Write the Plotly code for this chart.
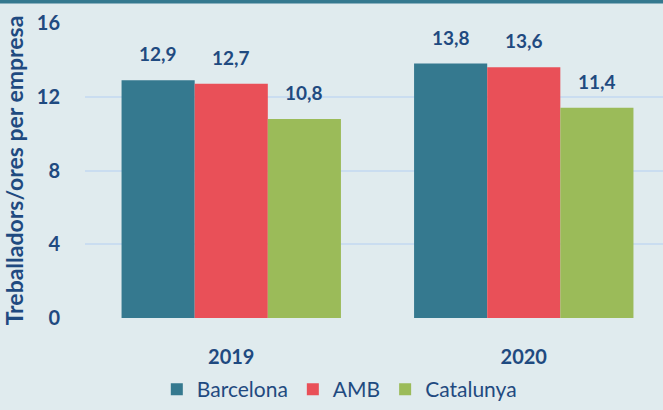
import plotly.graph_objects as go

years = ["2019", "2020"]
barcelona = [12.9, 13.8]
amb = [12.7, 13.6]
catalunya = [10.8, 11.4]
series_names = ["Barcelona", "AMB", "Catalunya"]
colors = ["#35798F", "#E95058", "#9BBB59"]
y_ticks = [0, 4, 8, 12, 16]

navy = "#1F4A80"
font_fam = "Lato, 'Open Sans', sans-serif"

fig = go.Figure()
annotations = []
bar_w = 0.75 / 3
for i, (name, vals, col) in enumerate(zip(series_names, [barcelona, amb, catalunya], colors)):
    fig.add_trace(go.Bar(
        x=years, y=vals, name=name, marker=dict(color=col, line=dict(width=0)),
    ))
    for j, v in enumerate(vals):
        annotations.append(dict(
            x=j + (i - 1) * bar_w, y=v, xref="x", yref="y",
            text=f"{v:.1f}".replace(".", ","), showarrow=False,
            yanchor="bottom", yshift=13,
            font=dict(family=font_fam, size=19, color=navy, weight="bold"),
        ))

plot_h = 295
fig.update_layout(
    width=663, height=410,
    margin=dict(l=85, r=0, t=23, b=92),
    paper_bgcolor="#E0EBEE", plot_bgcolor="#E0EBEE",
    barmode="group", bargap=0.25, bargroupgap=0,
    showlegend=True,
    legend=dict(orientation="h", x=0.44, xanchor="center", yref="container", y=-0.035,
                yanchor="bottom",
                font=dict(family=font_fam, size=21, color=navy), itemwidth=30,
                traceorder="normal"),
    xaxis=dict(range=[-0.5, 1.476], showgrid=False, showline=False, automargin=False,
               ticks="outside", ticklen=21, tickcolor="rgba(0,0,0,0)",
               tickfont=dict(family=font_fam, size=20, color=navy, weight="bold"),
               zeroline=False),
    yaxis=dict(range=[0, 16], tickvals=y_ticks, showgrid=True, gridcolor="#CADDF0",
               gridwidth=1.5, zeroline=False, showline=False, automargin=False,
               ticks="outside", ticklen=20, tickcolor="rgba(0,0,0,0)",
               tickfont=dict(family=font_fam, size=20, color=navy, weight="bold"),
               title=dict(text="Treballadors/ores per empresa", standoff=8,
                          font=dict(family=font_fam, size=23, color=navy, weight="bold"))),
    annotations=annotations,
    shapes=[dict(type="line", xref="paper", yref="paper", x0=-0.2, x1=1.1,
                 y0=1 + 21.5/plot_h, y1=1 + 21.5/plot_h, layer="above",
                 line=dict(color="#35798F", width=4))],
)
fig.write_html("out.html", config={"displayModeBar": False},
               post_script="document.body.style.margin='0';document.body.style.overflow='hidden';")
